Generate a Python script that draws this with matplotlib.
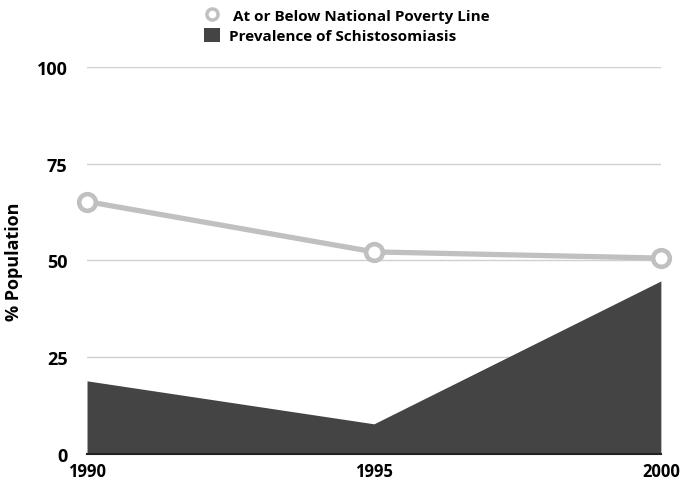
import matplotlib.pyplot as plt
from matplotlib.lines import Line2D
from matplotlib.patches import Patch

years = [1990, 1995, 2000]
poverty = [65.2, 52.2, 50.6]
schisto = [18.9, 7.8, 44.7]
yticks = [0, 25, 50, 75, 100]

plt.rcParams["font.family"] = ["Open Sans", "DejaVu Sans"]
plt.rcParams["font.weight"] = "bold"

line_color = "#c0c0c0"
area_color = "#444444"

fig = plt.figure(figsize=(6.82, 4.81), dpi=100)
ax = fig.add_axes([0.1276, 0.054, 0.8414, 0.805])

ax.fill_between(years, schisto, 0, color=area_color, linewidth=0, zorder=2)
ax.plot(years, poverty, color=line_color, linewidth=3.8, marker="o",
        markersize=12, markerfacecolor="white", markeredgecolor=line_color,
        markeredgewidth=3.3, zorder=4, clip_on=False)

ax.set_xlim(1990, 2000)
ax.set_ylim(0, 100)
ax.set_yticks(yticks)
ax.set_xticks(years)
ax.grid(axis="y", color="#d0d0d0", linewidth=1, zorder=0)
for s in ["top", "right", "left"]:
    ax.spines[s].set_visible(False)
ax.spines["bottom"].set_color("#222222")
ax.spines["bottom"].set_linewidth(1.5)
ax.spines["bottom"].set_zorder(5)
ax.tick_params(axis="y", length=0, pad=14, labelsize=13)
ax.tick_params(axis="x", length=0, pad=6, labelsize=12)
for lbl in ax.get_xticklabels() + ax.get_yticklabels():
    lbl.set_fontweight("bold")
ax.set_ylabel("% Population", fontsize=13, fontweight="bold", labelpad=10)

handles = [
    Line2D([], [], color="white", marker="o", markersize=8,
           markerfacecolor="white", markeredgecolor=line_color, markeredgewidth=2.5,
           linewidth=0),
    Patch(facecolor=area_color, edgecolor="none"),
]
fig.legend(handles, [" At or Below National Poverty Line", "Prevalence of Schistosomiasis"],
           loc="upper center", bbox_to_anchor=(0.508, 1.0), frameon=False,
           prop={"size": 11, "weight": "bold"}, handlelength=1.05, handleheight=1.05,
           handletextpad=0.6, labelspacing=0.3, borderaxespad=0.2)

fig.savefig("out.png", dpi=100)
